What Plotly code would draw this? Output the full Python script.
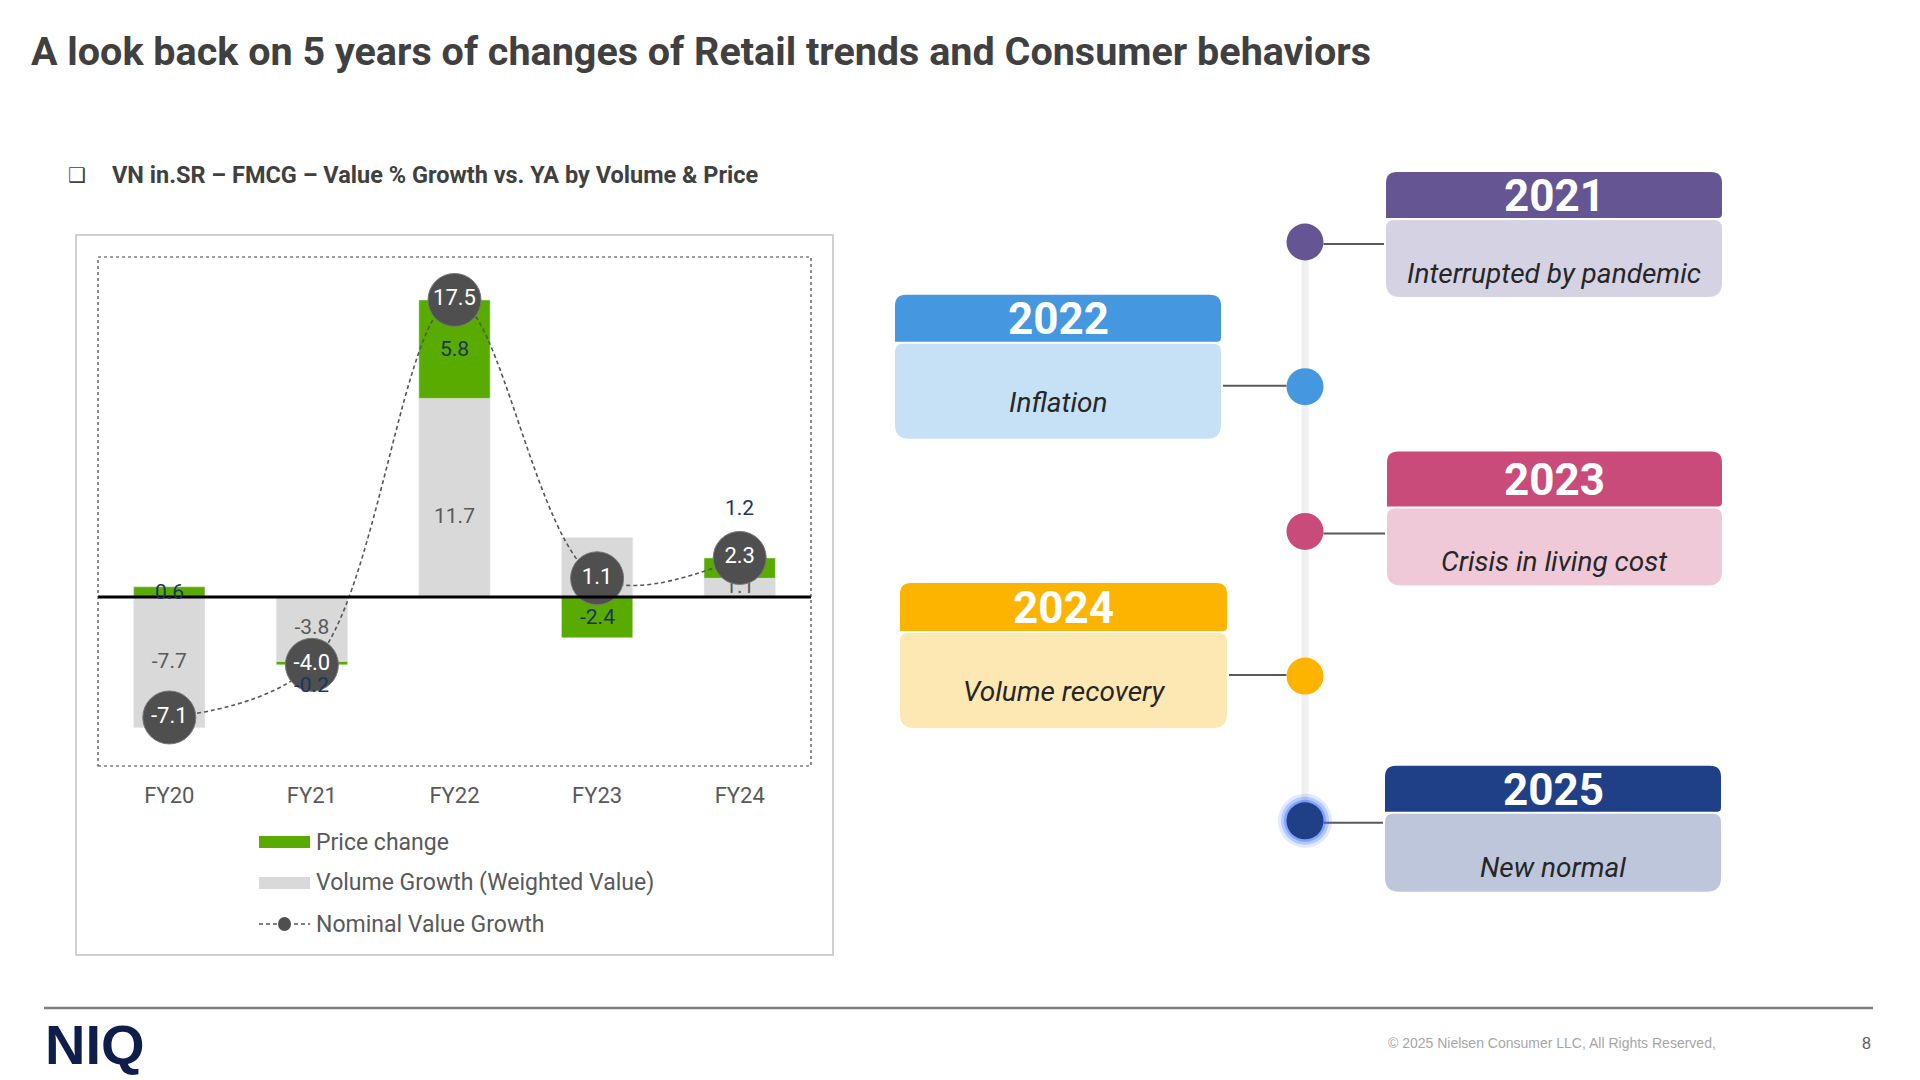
import plotly.graph_objects as go

# ---------------- data ----------------
categories = ["FY20", "FY21", "FY22", "FY23", "FY24"]
volume_growth = [-7.7, -3.8, 11.7, 3.5, 1.1]
price_change = [0.6, -0.2, 5.8, -2.4, 1.2]
nominal_growth = [-7.1, -4.0, 17.5, 1.1, 2.3]

timeline_years = ["2021", "2022", "2023", "2024", "2025"]
timeline_text = ["Interrupted by pandemic", "Inflation", "Crisis in living cost",
                 "Volume recovery", "New normal"]

# ---------------- styles ----------------
W, H = 1920, 1080
FONT = "Roboto, 'Noto Sans', sans-serif"
GREEN = "#5aab00"
GRAY_BAR = "#d9d9d9"
DARK = "#4f4f4f"
TXT = "#595959"
NAVY_LBL = "#1b3560"

header_colors = ["#655593", "#4597e0", "#c94b79", "#fdb400", "#1f3f86"]
body_colors = ["#d5d2e4", "#c6e0f5", "#efc9d7", "#fde8b3", "#bec6dc"]
price_label_shift = [0, -22, 0, 0, 60]      # pixel nudges of price labels
volume_label_shift = [0, 0, -20, 0, 0]      # pixel nudges of volume labels
PX_PER_UNIT = 16.97


def X(px):
    return px / W


def Y(py):
    return 1 - py / H


def rrect(x0, y0, x1, y1, rtl, rtr, rbr, rbl):
    def p(x, y):
        return f"{X(x):.5f},{Y(y):.5f}"
    pts = [f"M{p(x0 + rtl, y0)}", f"L{p(x1 - rtr, y0)}", f"Q{p(x1, y0)} {p(x1, y0 + rtr)}",
           f"L{p(x1, y1 - rbr)}", f"Q{p(x1, y1)} {p(x1 - rbr, y1)}", f"L{p(x0 + rbl, y1)}",
           f"Q{p(x0, y1)} {p(x0, y1 - rbl)}", f"L{p(x0, y0 + rtl)}", f"Q{p(x0, y0)} {p(x0 + rtl, y0)}"]
    return " ".join(pts) + " Z"


fig = go.Figure()

# bars
fig.add_trace(go.Bar(x=categories, y=volume_growth, marker_color=GRAY_BAR,
                     width=0.5, name="Volume Growth (Weighted Value)", showlegend=False))
fig.add_trace(go.Bar(x=categories, y=price_change, marker_color=GREEN,
                     width=0.5, name="Price change", showlegend=False))

# volume labels (under the line / circles)
fig.add_trace(go.Scatter(x=categories,
                         y=[v / 2 + s / PX_PER_UNIT for v, s in zip(volume_growth, volume_label_shift)],
                         mode="text", text=[f"{v:.1f}" for v in volume_growth],
                         textfont=dict(family=FONT, size=21, color=TXT),
                         showlegend=False, hoverinfo="skip", cliponaxis=False))

# nominal growth line
fig.add_trace(go.Scatter(x=categories, y=nominal_growth, mode="lines+markers+text",
                         line=dict(color="#555555", width=1.6, dash="4px,3px", shape="spline", smoothing=1.0),
                         marker=dict(size=53, color=DARK, line=dict(color="#777777", width=1)),
                         text=[f"{v:.1f}" for v in nominal_growth], textposition="middle center",
                         textfont=dict(family=FONT, size=22, color="white"),
                         name="Nominal Value Growth", showlegend=False, cliponaxis=False))

annotations = []
shapes = []

# price labels
for i, (c, v, p) in enumerate(zip(categories, volume_growth, price_change)):
    base = v if (v >= 0) == (p >= 0) else 0
    annotations.append(dict(x=c, y=base + p / 2, xref="x", yref="y", text=f"{p:.1f}",
                            showarrow=False, yshift=price_label_shift[i],
                            font=dict(family=FONT, size=21, color=NAVY_LBL)))

# zero line
shapes.append(dict(type="line", xref="x domain", yref="y", x0=0, x1=1, y0=0, y1=0,
                   line=dict(color="black", width=3), layer="above"))
# dotted plot frame
shapes.append(dict(type="rect", xref="x domain", yref="y domain", x0=0, x1=1, y0=0, y1=1,
                   line=dict(color="#404040", width=1.2, dash="dot"), layer="above"))
# outer panel
shapes.append(dict(type="rect", xref="paper", yref="paper", x0=X(76), x1=X(833), y0=Y(235), y1=Y(955),
                   line=dict(color="#d0d0d0", width=2), layer="below"))

# custom legend
leg_rows = [842, 883, 924]
leg_labels = ["Price change", "Volume Growth (Weighted Value)", "Nominal Value Growth"]
shapes.append(dict(type="rect", xref="paper", yref="paper", x0=X(259), x1=X(310),
                   y0=Y(leg_rows[0] - 6), y1=Y(leg_rows[0] + 6), fillcolor=GREEN, line_width=0))
shapes.append(dict(type="rect", xref="paper", yref="paper", x0=X(259), x1=X(310),
                   y0=Y(leg_rows[1] - 6), y1=Y(leg_rows[1] + 6), fillcolor=GRAY_BAR, line_width=0))
shapes.append(dict(type="line", xref="paper", yref="paper", x0=X(259), x1=X(310),
                   y0=Y(leg_rows[2]), y1=Y(leg_rows[2]), line=dict(color="#555555", width=1.6, dash="4px,3px")))
shapes.append(dict(type="circle", xref="paper", yref="paper", x0=X(278), x1=X(291),
                   y0=Y(leg_rows[2] - 7), y1=Y(leg_rows[2] + 7), fillcolor=DARK, line_width=0))
for r, lab in zip(leg_rows, leg_labels):
    annotations.append(dict(x=X(314), y=Y(r), xref="paper", yref="paper", text=lab, showarrow=False,
                            xanchor="left", yanchor="middle", font=dict(family=FONT, size=23, color=TXT)))

# title & subtitle
annotations.append(dict(x=X(29), y=Y(51), xref="paper", yref="paper", xanchor="left", yanchor="middle",
                        text="<b>A look back on 5 years of changes of Retail trends and Consumer behaviors</b>",
                        showarrow=False, font=dict(family=FONT, size=39.5, color="#404040")))
annotations.append(dict(x=X(66), y=Y(175), xref="paper", yref="paper", xanchor="left", yanchor="middle",
                        text="❑", showarrow=False, font=dict(family="DejaVu Sans", size=20, color="#404040")))
annotations.append(dict(x=X(110), y=Y(175), xref="paper", yref="paper", xanchor="left", yanchor="middle",
                        text="<b>VN in.SR – FMCG – Value % Growth vs. YA by Volume & Price</b>",
                        showarrow=False, font=dict(family=FONT, size=23.5, color="#404040")))

# timeline
dot_x = 1305
dot_r = 18.5
dot_y = [242 + i * 144.7 for i in range(len(timeline_years))]
header_off = [-70, -92, -80, -93, -55]
header_h = [46, 47, 55, 48, 46]
body_h = [77, 95, 77, 95, 78]
text_frac = [0.69, 0.62, 0.69, 0.62, 0.69]
box_x = [(1386, 1722), (895, 1221), (1387, 1722), (900, 1227), (1385, 1721)]

shapes.append(dict(type="line", xref="paper", yref="paper", x0=X(dot_x), x1=X(dot_x),
                   y0=Y(dot_y[0]), y1=Y(dot_y[-1]), line=dict(color="#efefef", width=7), layer="below"))

for i, (yr, desc) in enumerate(zip(timeline_years, timeline_text)):
    cy = dot_y[i]
    right = (i % 2 == 0)
    bx0, bx1 = box_x[i]
    ht = cy + header_off[i]
    hb = ht + header_h[i]
    bt = hb + 2
    bb = bt + body_h[i]
    if right:
        shapes.append(dict(type="line", xref="paper", yref="paper", x0=X(dot_x + dot_r), x1=X(bx0 - 2),
                           y0=Y(cy + 2), y1=Y(cy + 2), line=dict(color="#595959", width=2)))
    else:
        shapes.append(dict(type="line", xref="paper", yref="paper", x0=X(bx1 + 2), x1=X(dot_x - dot_r),
                           y0=Y(cy - 1), y1=Y(cy - 1), line=dict(color="#595959", width=2)))
    if i == len(timeline_years) - 1:
        for gr, op in [(27, 0.15), (24, 0.25), (21, 0.4)]:
            shapes.append(dict(type="circle", xref="paper", yref="paper", x0=X(dot_x - gr), x1=X(dot_x + gr),
                               y0=Y(cy - gr), y1=Y(cy + gr), fillcolor="#2f6bff", opacity=op, line_width=0))
    shapes.append(dict(type="circle", xref="paper", yref="paper", x0=X(dot_x - dot_r), x1=X(dot_x + dot_r),
                       y0=Y(cy - dot_r), y1=Y(cy + dot_r), fillcolor=header_colors[i], line_width=0))
    shapes.append(dict(type="path", xref="paper", yref="paper", path=rrect(bx0, ht, bx1, hb, 11, 11, 4, 0),
                       fillcolor=header_colors[i], line_width=0))
    shapes.append(dict(type="path", xref="paper", yref="paper", path=rrect(bx0, bt, bx1, bb, 8, 8, 14, 14),
                       fillcolor=body_colors[i], line_width=0))
    annotations.append(dict(x=X((bx0 + bx1) / 2), y=Y((ht + hb) / 2 + 1), xref="paper", yref="paper",
                            text=f"<b>{yr}</b>", showarrow=False, xanchor="center", yanchor="middle",
                            font=dict(family=FONT, size=44, color="white")))
    annotations.append(dict(x=X((bx0 + bx1) / 2), y=Y(bt + text_frac[i] * (bb - bt)), xref="paper", yref="paper",
                            text=f"<i>{desc}</i>", showarrow=False, xanchor="center", yanchor="middle",
                            font=dict(family=FONT, size=28, color="#262626")))

# footer
shapes.append(dict(type="line", xref="paper", yref="paper", x0=X(44), x1=X(1873), y0=Y(1008), y1=Y(1008),
                   line=dict(color="#7f7f7f", width=2.5)))
annotations.append(dict(x=X(43), y=Y(1044), xref="paper", yref="paper", xanchor="left", yanchor="middle",
                        text="<b>NIQ</b>", showarrow=False,
                        font=dict(family="'Liberation Sans', Arial, sans-serif", size=56, color="#0f1d4a")))
annotations.append(dict(x=X(1718), y=Y(1043), xref="paper", yref="paper", xanchor="right", yanchor="middle",
                        text="© 2025 Nielsen Consumer LLC, All Rights Reserved,", showarrow=False,
                        font=dict(family="'Liberation Sans', Arial, sans-serif", size=14, color="#a6a6a6")))
annotations.append(dict(x=X(1866), y=Y(1043), xref="paper", yref="paper", xanchor="center", yanchor="middle",
                        text="8", showarrow=False,
                        font=dict(family="'Liberation Sans', Arial, sans-serif", size=16, color="#595959")))

fig.update_layout(
    width=W, height=H, margin=dict(l=0, r=0, t=0, b=0),
    paper_bgcolor="white", plot_bgcolor="white",
    barmode="relative", bargap=0.5,
    showlegend=False,
    xaxis=dict(domain=[X(98), X(811)], range=[-0.5, 4.5], type="category",
               showgrid=False, zeroline=False, showline=False, ticks="",
               tickfont=dict(family=FONT, size=22, color=TXT), ticklabelstandoff=14, fixedrange=True),
    yaxis=dict(domain=[Y(766), Y(257)], range=[-9.96, 20.03], visible=False,
               showgrid=False, zeroline=False, fixedrange=True),
    shapes=shapes, annotations=annotations,
    font=dict(family=FONT),
)

fig.write_html("out.html")
